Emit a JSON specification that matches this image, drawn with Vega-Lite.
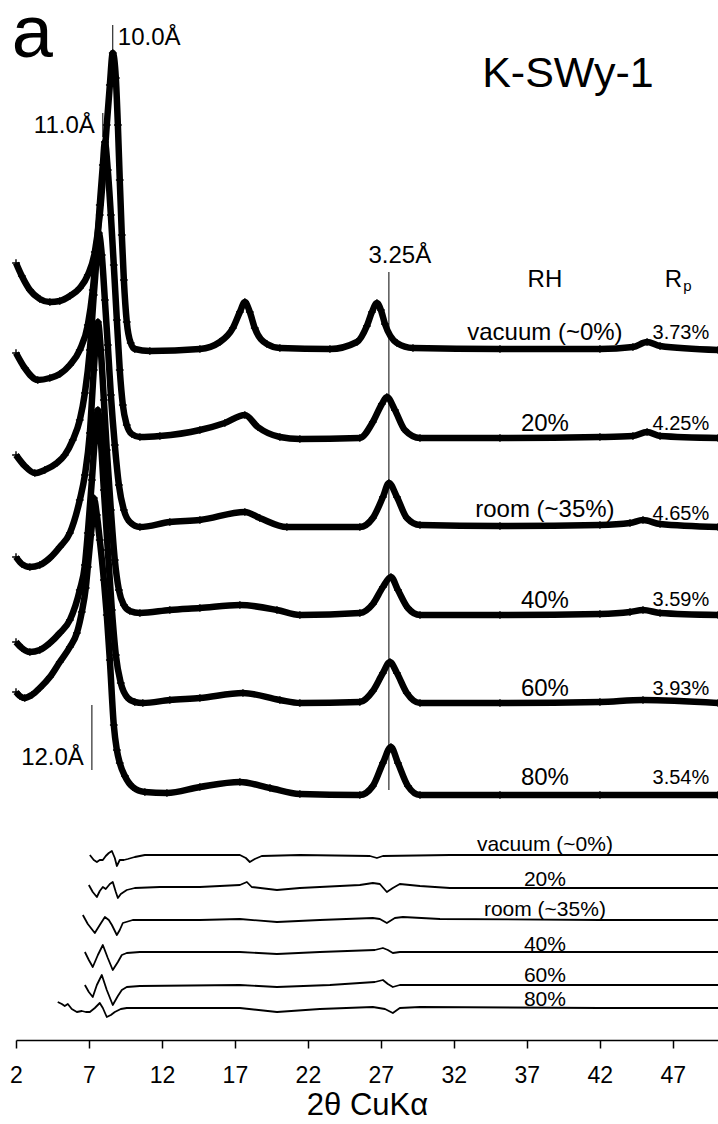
{
  "$schema": "https://vega.github.io/schema/vega-lite/v6.json",
  "width": 702,
  "height": 1040,
  "autosize": {"type": "none"},
  "padding": {"left": 16, "top": 0, "right": 0, "bottom": 84},
  "background": "white",
  "config": {"view": {"stroke": null}, "font": "Liberation Sans"},
  "datasets": {
    "obs": [
      {"rh":"vac","twotheta":2.0,"intensity":777},{"rh":"vac","twotheta":2.4,"intensity":764},{"rh":"vac","twotheta":2.95,"intensity":750},{"rh":"vac","twotheta":3.63,"intensity":741},{"rh":"vac","twotheta":4.32,"intensity":738},{"rh":"vac","twotheta":5.0,"intensity":739},{"rh":"vac","twotheta":5.69,"intensity":744},{"rh":"vac","twotheta":6.37,"intensity":752},{"rh":"vac","twotheta":6.92,"intensity":765},{"rh":"vac","twotheta":7.4,"intensity":788},{"rh":"vac","twotheta":7.74,"intensity":825},{"rh":"vac","twotheta":8.02,"intensity":875},{"rh":"vac","twotheta":8.22,"intensity":915},{"rh":"vac","twotheta":8.43,"intensity":955},{"rh":"vac","twotheta":8.63,"intensity":987},{"rh":"vac","twotheta":8.84,"intensity":962},{"rh":"vac","twotheta":8.98,"intensity":915},{"rh":"vac","twotheta":9.11,"intensity":860},{"rh":"vac","twotheta":9.25,"intensity":805},{"rh":"vac","twotheta":9.39,"intensity":760},{"rh":"vac","twotheta":9.59,"intensity":718},{"rh":"vac","twotheta":9.86,"intensity":697},{"rh":"vac","twotheta":10.14,"intensity":691},{"rh":"vac","twotheta":11.17,"intensity":689},{"rh":"vac","twotheta":14.6,"intensity":691},{"rh":"vac","twotheta":15.97,"intensity":698},{"rh":"vac","twotheta":16.86,"intensity":712},{"rh":"vac","twotheta":17.34,"intensity":728},{"rh":"vac","twotheta":17.68,"intensity":738},{"rh":"vac","twotheta":18.02,"intensity":728},{"rh":"vac","twotheta":18.36,"intensity":712},{"rh":"vac","twotheta":19.19,"intensity":696},{"rh":"vac","twotheta":20.08,"intensity":692},{"rh":"vac","twotheta":23.51,"intensity":691},{"rh":"vac","twotheta":25.36,"intensity":698},{"rh":"vac","twotheta":26.04,"intensity":714},{"rh":"vac","twotheta":26.39,"intensity":728},{"rh":"vac","twotheta":26.73,"intensity":737},{"rh":"vac","twotheta":27.0,"intensity":730},{"rh":"vac","twotheta":27.28,"intensity":716},{"rh":"vac","twotheta":28.1,"intensity":697},{"rh":"vac","twotheta":29.2,"intensity":692},{"rh":"vac","twotheta":35.16,"intensity":691},{"rh":"vac","twotheta":42.01,"intensity":691},{"rh":"vac","twotheta":44.27,"intensity":693},{"rh":"vac","twotheta":45.24,"intensity":698},{"rh":"vac","twotheta":46.13,"intensity":694},{"rh":"vac","twotheta":50.1,"intensity":690},

      {"rh":"20","twotheta":2.0,"intensity":687},{"rh":"20","twotheta":2.6,"intensity":672},{"rh":"20","twotheta":3.49,"intensity":660},{"rh":"20","twotheta":4.32,"intensity":662},{"rh":"20","twotheta":5.0,"intensity":666},{"rh":"20","twotheta":5.69,"intensity":675},{"rh":"20","twotheta":6.37,"intensity":690},{"rh":"20","twotheta":6.92,"intensity":715},{"rh":"20","twotheta":7.26,"intensity":750},{"rh":"20","twotheta":7.54,"intensity":795},{"rh":"20","twotheta":7.74,"intensity":835},{"rh":"20","twotheta":7.95,"intensity":875},{"rh":"20","twotheta":8.09,"intensity":898},{"rh":"20","twotheta":8.29,"intensity":870},{"rh":"20","twotheta":8.5,"intensity":825},{"rh":"20","twotheta":8.7,"intensity":775},{"rh":"20","twotheta":8.91,"intensity":720},{"rh":"20","twotheta":9.11,"intensity":670},{"rh":"20","twotheta":9.32,"intensity":635},{"rh":"20","twotheta":9.59,"intensity":615},{"rh":"20","twotheta":9.93,"intensity":606},{"rh":"20","twotheta":10.49,"intensity":603},{"rh":"20","twotheta":11.86,"intensity":604},{"rh":"20","twotheta":14.6,"intensity":610},{"rh":"20","twotheta":16.31,"intensity":617},{"rh":"20","twotheta":17.68,"intensity":625},{"rh":"20","twotheta":18.57,"intensity":613},{"rh":"20","twotheta":20.08,"intensity":603},{"rh":"20","twotheta":21.45,"intensity":601},{"rh":"20","twotheta":25.56,"intensity":602},{"rh":"20","twotheta":26.45,"intensity":618},{"rh":"20","twotheta":27.07,"intensity":636},{"rh":"20","twotheta":27.41,"intensity":643},{"rh":"20","twotheta":27.96,"intensity":630},{"rh":"20","twotheta":28.64,"intensity":610},{"rh":"20","twotheta":29.68,"intensity":602},{"rh":"20","twotheta":35.16,"intensity":602},{"rh":"20","twotheta":42.01,"intensity":603},{"rh":"20","twotheta":44.27,"intensity":604},{"rh":"20","twotheta":45.24,"intensity":608},{"rh":"20","twotheta":46.13,"intensity":604},{"rh":"20","twotheta":50.1,"intensity":602},

      {"rh":"room","twotheta":2.0,"intensity":585},{"rh":"room","twotheta":2.6,"intensity":574},{"rh":"room","twotheta":3.29,"intensity":567},{"rh":"room","twotheta":3.97,"intensity":570},{"rh":"room","twotheta":4.8,"intensity":577},{"rh":"room","twotheta":5.34,"intensity":585},{"rh":"room","twotheta":5.89,"intensity":600},{"rh":"room","twotheta":6.37,"intensity":620},{"rh":"room","twotheta":6.72,"intensity":647},{"rh":"room","twotheta":7.06,"intensity":690},{"rh":"room","twotheta":7.33,"intensity":745},{"rh":"room","twotheta":7.54,"intensity":785},{"rh":"room","twotheta":7.67,"intensity":807},{"rh":"room","twotheta":7.88,"intensity":785},{"rh":"room","twotheta":8.09,"intensity":740},{"rh":"room","twotheta":8.29,"intensity":695},{"rh":"room","twotheta":8.5,"intensity":645},{"rh":"room","twotheta":8.77,"intensity":595},{"rh":"room","twotheta":9.05,"intensity":555},{"rh":"room","twotheta":9.39,"intensity":530},{"rh":"room","twotheta":9.8,"intensity":518},{"rh":"room","twotheta":10.49,"intensity":513},{"rh":"room","twotheta":12.54,"intensity":518},{"rh":"room","twotheta":14.6,"intensity":520},{"rh":"room","twotheta":17.68,"intensity":528},{"rh":"room","twotheta":18.7,"intensity":522},{"rh":"room","twotheta":20.56,"intensity":513},{"rh":"room","twotheta":25.56,"intensity":513},{"rh":"room","twotheta":26.45,"intensity":522},{"rh":"room","twotheta":27.14,"intensity":543},{"rh":"room","twotheta":27.55,"intensity":557},{"rh":"room","twotheta":28.1,"intensity":543},{"rh":"room","twotheta":28.78,"intensity":522},{"rh":"room","twotheta":29.68,"intensity":515},{"rh":"room","twotheta":35.16,"intensity":514},{"rh":"room","twotheta":42.01,"intensity":515},{"rh":"room","twotheta":44.07,"intensity":517},{"rh":"room","twotheta":44.96,"intensity":520},{"rh":"room","twotheta":46.13,"intensity":516},{"rh":"room","twotheta":50.1,"intensity":513},

      {"rh":"40","twotheta":2.0,"intensity":483},{"rh":"40","twotheta":2.4,"intensity":476},{"rh":"40","twotheta":2.95,"intensity":473},{"rh":"40","twotheta":3.63,"intensity":475},{"rh":"40","twotheta":4.32,"intensity":482},{"rh":"40","twotheta":5.0,"intensity":493},{"rh":"40","twotheta":5.69,"intensity":507},{"rh":"40","twotheta":6.37,"intensity":540},{"rh":"40","twotheta":6.72,"intensity":565},{"rh":"40","twotheta":7.06,"intensity":607},{"rh":"40","twotheta":7.33,"intensity":670},{"rh":"40","twotheta":7.61,"intensity":718},{"rh":"40","twotheta":7.81,"intensity":690},{"rh":"40","twotheta":8.02,"intensity":640},{"rh":"40","twotheta":8.22,"intensity":590},{"rh":"40","twotheta":8.5,"intensity":530},{"rh":"40","twotheta":8.77,"intensity":480},{"rh":"40","twotheta":9.05,"intensity":450},{"rh":"40","twotheta":9.39,"intensity":435},{"rh":"40","twotheta":9.8,"intensity":429},{"rh":"40","twotheta":10.49,"intensity":427},{"rh":"40","twotheta":12.54,"intensity":430},{"rh":"40","twotheta":14.6,"intensity":432},{"rh":"40","twotheta":17.34,"intensity":435},{"rh":"40","twotheta":19.88,"intensity":430},{"rh":"40","twotheta":21.45,"intensity":425},{"rh":"40","twotheta":25.56,"intensity":427},{"rh":"40","twotheta":26.45,"intensity":436},{"rh":"40","twotheta":27.14,"intensity":453},{"rh":"40","twotheta":27.69,"intensity":463},{"rh":"40","twotheta":28.17,"intensity":450},{"rh":"40","twotheta":28.85,"intensity":432},{"rh":"40","twotheta":29.68,"intensity":425},{"rh":"40","twotheta":35.16,"intensity":425},{"rh":"40","twotheta":42.01,"intensity":426},{"rh":"40","twotheta":44.07,"intensity":428},{"rh":"40","twotheta":44.96,"intensity":430},{"rh":"40","twotheta":46.13,"intensity":427},{"rh":"40","twotheta":50.1,"intensity":425},

      {"rh":"60","twotheta":2.0,"intensity":398},{"rh":"60","twotheta":2.4,"intensity":392},{"rh":"60","twotheta":2.95,"intensity":388},{"rh":"60","twotheta":3.63,"intensity":390},{"rh":"60","twotheta":4.32,"intensity":397},{"rh":"60","twotheta":5.0,"intensity":407},{"rh":"60","twotheta":5.69,"intensity":420},{"rh":"60","twotheta":6.37,"intensity":450},{"rh":"60","twotheta":6.72,"intensity":475},{"rh":"60","twotheta":6.92,"intensity":507},{"rh":"60","twotheta":7.2,"intensity":560},{"rh":"60","twotheta":7.4,"intensity":600},{"rh":"60","twotheta":7.61,"intensity":630},{"rh":"60","twotheta":7.81,"intensity":600},{"rh":"60","twotheta":8.02,"intensity":550},{"rh":"60","twotheta":8.29,"intensity":490},{"rh":"60","twotheta":8.57,"intensity":430},{"rh":"60","twotheta":8.84,"intensity":385},{"rh":"60","twotheta":9.18,"intensity":357},{"rh":"60","twotheta":9.66,"intensity":342},{"rh":"60","twotheta":10.14,"intensity":338},{"rh":"60","twotheta":10.69,"intensity":337},{"rh":"60","twotheta":12.54,"intensity":340},{"rh":"60","twotheta":14.6,"intensity":342},{"rh":"60","twotheta":17.55,"intensity":347},{"rh":"60","twotheta":20.08,"intensity":340},{"rh":"60","twotheta":21.45,"intensity":337},{"rh":"60","twotheta":25.56,"intensity":338},{"rh":"60","twotheta":26.45,"intensity":349},{"rh":"60","twotheta":27.14,"intensity":367},{"rh":"60","twotheta":27.62,"intensity":378},{"rh":"60","twotheta":28.1,"intensity":367},{"rh":"60","twotheta":28.78,"intensity":347},{"rh":"60","twotheta":29.68,"intensity":337},{"rh":"60","twotheta":35.16,"intensity":337},{"rh":"60","twotheta":42.01,"intensity":338},{"rh":"60","twotheta":44.96,"intensity":340},{"rh":"60","twotheta":50.1,"intensity":337},

      {"rh":"80","twotheta":2.0,"intensity":348},{"rh":"80","twotheta":2.26,"intensity":344},{"rh":"80","twotheta":2.6,"intensity":342},{"rh":"80","twotheta":3.08,"intensity":345},{"rh":"80","twotheta":3.63,"intensity":352},{"rh":"80","twotheta":4.32,"intensity":363},{"rh":"80","twotheta":5.0,"intensity":378},{"rh":"80","twotheta":5.69,"intensity":393},{"rh":"80","twotheta":6.17,"intensity":407},{"rh":"80","twotheta":6.51,"intensity":428},{"rh":"80","twotheta":6.78,"intensity":452},{"rh":"80","twotheta":6.92,"intensity":473},{"rh":"80","twotheta":7.13,"intensity":505},{"rh":"80","twotheta":7.26,"intensity":525},{"rh":"80","twotheta":7.33,"intensity":542},{"rh":"80","twotheta":7.54,"intensity":525},{"rh":"80","twotheta":7.74,"intensity":500},{"rh":"80","twotheta":8.02,"intensity":460},{"rh":"80","twotheta":8.22,"intensity":425},{"rh":"80","twotheta":8.43,"intensity":380},{"rh":"80","twotheta":8.7,"intensity":315},{"rh":"80","twotheta":8.91,"intensity":290},{"rh":"80","twotheta":9.11,"intensity":277},{"rh":"80","twotheta":9.46,"intensity":264},{"rh":"80","twotheta":10.0,"intensity":253},{"rh":"80","twotheta":10.83,"intensity":248},{"rh":"80","twotheta":12.34,"intensity":247},{"rh":"80","twotheta":14.6,"intensity":253},{"rh":"80","twotheta":17.34,"intensity":258},{"rh":"80","twotheta":19.4,"intensity":252},{"rh":"80","twotheta":21.45,"intensity":246},{"rh":"80","twotheta":25.56,"intensity":245},{"rh":"80","twotheta":26.45,"intensity":254},{"rh":"80","twotheta":27.14,"intensity":277},{"rh":"80","twotheta":27.69,"intensity":293},{"rh":"80","twotheta":28.17,"intensity":277},{"rh":"80","twotheta":28.85,"intensity":254},{"rh":"80","twotheta":29.68,"intensity":245},{"rh":"80","twotheta":35.16,"intensity":245},{"rh":"80","twotheta":42.01,"intensity":245},{"rh":"80","twotheta":50.1,"intensity":245}
    ],
    "diff": [
      {"rh":"vac","twotheta":7.06,"intensity":185},{"rh":"vac","twotheta":7.33,"intensity":180},{"rh":"vac","twotheta":7.54,"intensity":178},{"rh":"vac","twotheta":7.74,"intensity":180},{"rh":"vac","twotheta":7.95,"intensity":180},{"rh":"vac","twotheta":8.15,"intensity":184},{"rh":"vac","twotheta":8.36,"intensity":187},{"rh":"vac","twotheta":8.57,"intensity":189},{"rh":"vac","twotheta":8.77,"intensity":182},{"rh":"vac","twotheta":8.91,"intensity":174},{"rh":"vac","twotheta":9.11,"intensity":180},{"rh":"vac","twotheta":9.39,"intensity":180},{"rh":"vac","twotheta":9.66,"intensity":181},{"rh":"vac","twotheta":10.14,"intensity":183},{"rh":"vac","twotheta":10.83,"intensity":185},{"rh":"vac","twotheta":14.6,"intensity":185},{"rh":"vac","twotheta":17.34,"intensity":185},{"rh":"vac","twotheta":17.75,"intensity":182},{"rh":"vac","twotheta":18.02,"intensity":178},{"rh":"vac","twotheta":18.36,"intensity":181},{"rh":"vac","twotheta":18.84,"intensity":184},{"rh":"vac","twotheta":21.45,"intensity":185},{"rh":"vac","twotheta":26.25,"intensity":184},{"rh":"vac","twotheta":26.73,"intensity":182},{"rh":"vac","twotheta":27.14,"intensity":184},{"rh":"vac","twotheta":31.73,"intensity":185},{"rh":"vac","twotheta":42.01,"intensity":185},{"rh":"vac","twotheta":50.1,"intensity":185},

      {"rh":"20","twotheta":6.99,"intensity":155},{"rh":"20","twotheta":7.26,"intensity":148},{"rh":"20","twotheta":7.54,"intensity":143},{"rh":"20","twotheta":7.74,"intensity":149},{"rh":"20","twotheta":7.95,"intensity":153},{"rh":"20","twotheta":8.15,"intensity":151},{"rh":"20","twotheta":8.43,"intensity":156},{"rh":"20","twotheta":8.63,"intensity":158},{"rh":"20","twotheta":8.84,"intensity":148},{"rh":"20","twotheta":8.98,"intensity":142},{"rh":"20","twotheta":9.18,"intensity":146},{"rh":"20","twotheta":9.59,"intensity":150},{"rh":"20","twotheta":10.14,"intensity":152},{"rh":"20","twotheta":11.86,"intensity":153},{"rh":"20","twotheta":14.6,"intensity":153},{"rh":"20","twotheta":17.34,"intensity":155},{"rh":"20","twotheta":17.82,"intensity":158},{"rh":"20","twotheta":18.15,"intensity":153},{"rh":"20","twotheta":19.88,"intensity":150},{"rh":"20","twotheta":21.45,"intensity":152},{"rh":"20","twotheta":25.56,"intensity":155},{"rh":"20","twotheta":26.45,"intensity":157},{"rh":"20","twotheta":26.93,"intensity":156},{"rh":"20","twotheta":27.41,"intensity":148},{"rh":"20","twotheta":27.82,"intensity":152},{"rh":"20","twotheta":28.3,"intensity":156},{"rh":"20","twotheta":29.68,"intensity":154},{"rh":"20","twotheta":31.73,"intensity":152},{"rh":"20","twotheta":42.01,"intensity":152},{"rh":"20","twotheta":50.1,"intensity":152},

      {"rh":"room","twotheta":6.58,"intensity":125},{"rh":"room","twotheta":6.92,"intensity":116},{"rh":"room","twotheta":7.4,"intensity":107},{"rh":"room","twotheta":7.74,"intensity":115},{"rh":"room","twotheta":8.09,"intensity":123},{"rh":"room","twotheta":8.36,"intensity":120},{"rh":"room","twotheta":8.57,"intensity":115},{"rh":"room","twotheta":8.91,"intensity":105},{"rh":"room","twotheta":9.11,"intensity":110},{"rh":"room","twotheta":9.32,"intensity":117},{"rh":"room","twotheta":10.0,"intensity":120},{"rh":"room","twotheta":14.6,"intensity":120},{"rh":"room","twotheta":17.34,"intensity":121},{"rh":"room","twotheta":19.88,"intensity":118},{"rh":"room","twotheta":22.82,"intensity":120},{"rh":"room","twotheta":26.45,"intensity":122},{"rh":"room","twotheta":26.93,"intensity":121},{"rh":"room","twotheta":27.41,"intensity":117},{"rh":"room","twotheta":27.96,"intensity":122},{"rh":"room","twotheta":28.51,"intensity":123},{"rh":"room","twotheta":31.05,"intensity":121},{"rh":"room","twotheta":42.01,"intensity":120},{"rh":"room","twotheta":50.1,"intensity":120},

      {"rh":"40","twotheta":6.72,"intensity":88},{"rh":"40","twotheta":6.99,"intensity":80},{"rh":"40","twotheta":7.26,"intensity":73},{"rh":"40","twotheta":7.61,"intensity":85},{"rh":"40","twotheta":7.95,"intensity":95},{"rh":"40","twotheta":8.29,"intensity":82},{"rh":"40","twotheta":8.63,"intensity":70},{"rh":"40","twotheta":8.98,"intensity":78},{"rh":"40","twotheta":9.25,"intensity":85},{"rh":"40","twotheta":9.59,"intensity":87},{"rh":"40","twotheta":10.49,"intensity":88},{"rh":"40","twotheta":17.34,"intensity":88},{"rh":"40","twotheta":19.88,"intensity":86},{"rh":"40","twotheta":22.82,"intensity":88},{"rh":"40","twotheta":26.59,"intensity":90},{"rh":"40","twotheta":27.14,"intensity":92},{"rh":"40","twotheta":27.48,"intensity":90},{"rh":"40","twotheta":27.82,"intensity":87},{"rh":"40","twotheta":28.3,"intensity":88},{"rh":"40","twotheta":42.01,"intensity":88},{"rh":"40","twotheta":50.1,"intensity":88},

      {"rh":"60","twotheta":6.72,"intensity":55},{"rh":"60","twotheta":6.99,"intensity":48},{"rh":"60","twotheta":7.26,"intensity":43},{"rh":"60","twotheta":7.54,"intensity":55},{"rh":"60","twotheta":7.88,"intensity":65},{"rh":"60","twotheta":8.22,"intensity":50},{"rh":"60","twotheta":8.63,"intensity":35},{"rh":"60","twotheta":8.98,"intensity":44},{"rh":"60","twotheta":9.25,"intensity":50},{"rh":"60","twotheta":9.59,"intensity":53},{"rh":"60","twotheta":10.49,"intensity":54},{"rh":"60","twotheta":17.34,"intensity":55},{"rh":"60","twotheta":19.88,"intensity":53},{"rh":"60","twotheta":23.51,"intensity":55},{"rh":"60","twotheta":26.59,"intensity":58},{"rh":"60","twotheta":27.14,"intensity":60},{"rh":"60","twotheta":27.48,"intensity":56},{"rh":"60","twotheta":27.82,"intensity":53},{"rh":"60","twotheta":28.3,"intensity":55},{"rh":"60","twotheta":42.01,"intensity":55},{"rh":"60","twotheta":50.1,"intensity":55},

      {"rh":"80","twotheta":4.86,"intensity":38},{"rh":"80","twotheta":5.14,"intensity":36},{"rh":"80","twotheta":5.34,"intensity":34},{"rh":"80","twotheta":5.55,"intensity":36},{"rh":"80","twotheta":5.82,"intensity":31},{"rh":"80","twotheta":6.17,"intensity":28},{"rh":"80","twotheta":6.51,"intensity":29},{"rh":"80","twotheta":6.78,"intensity":28},{"rh":"80","twotheta":7.06,"intensity":28},{"rh":"80","twotheta":7.4,"intensity":32},{"rh":"80","twotheta":7.74,"intensity":37},{"rh":"80","twotheta":7.95,"intensity":32},{"rh":"80","twotheta":8.22,"intensity":23},{"rh":"80","twotheta":8.5,"intensity":25},{"rh":"80","twotheta":8.77,"intensity":28},{"rh":"80","twotheta":9.18,"intensity":31},{"rh":"80","twotheta":9.59,"intensity":32},{"rh":"80","twotheta":14.6,"intensity":32},{"rh":"80","twotheta":17.34,"intensity":32},{"rh":"80","twotheta":19.88,"intensity":28},{"rh":"80","twotheta":22.82,"intensity":31},{"rh":"80","twotheta":26.45,"intensity":33},{"rh":"80","twotheta":27.28,"intensity":31},{"rh":"80","twotheta":27.82,"intensity":27},{"rh":"80","twotheta":28.3,"intensity":32},{"rh":"80","twotheta":29.68,"intensity":33},{"rh":"80","twotheta":42.01,"intensity":32},{"rh":"80","twotheta":50.1,"intensity":32}
    ],
    "marks": [
      {"name":"10.0Å","twotheta":8.63,"lo":987,"hi":1015},
      {"name":"11.0Å","twotheta":7.95,"lo":903,"hi":927},
      {"name":"12.0Å","twotheta":7.2,"lo":270,"hi":335},
      {"name":"3.25Å","twotheta":27.55,"lo":250,"hi":768}
    ],
    "labels": [
      {"text":"vacuum (~0%)","twotheta":38.24,"intensity":707},
      {"text":"20%","twotheta":38.24,"intensity":616},
      {"text":"room (~35%)","twotheta":38.24,"intensity":530},
      {"text":"40%","twotheta":38.24,"intensity":439},
      {"text":"60%","twotheta":38.24,"intensity":351},
      {"text":"80%","twotheta":38.24,"intensity":262},
      {"text":"RH","twotheta":38.24,"intensity":760},
      {"text":"R","twotheta":47.05,"intensity":760},
      {"text":"3.25Å","twotheta":28.3,"intensity":784}
    ],
    "rp": [
      {"text":"3.73%","twotheta":47.56,"intensity":707},
      {"text":"4.25%","twotheta":47.56,"intensity":616},
      {"text":"4.65%","twotheta":47.56,"intensity":526},
      {"text":"3.59%","twotheta":47.56,"intensity":440},
      {"text":"3.93%","twotheta":47.56,"intensity":351},
      {"text":"3.54%","twotheta":47.56,"intensity":262}
    ],
    "difflabels": [
      {"text":"vacuum (~0%)","twotheta":38.24,"intensity":195},
      {"text":"20%","twotheta":38.24,"intensity":160},
      {"text":"room (~35%)","twotheta":38.24,"intensity":130},
      {"text":"40%","twotheta":38.24,"intensity":95},
      {"text":"60%","twotheta":38.24,"intensity":64},
      {"text":"80%","twotheta":38.24,"intensity":40}
    ]
  },
  "encoding": {
    "x": {"field":"twotheta","type":"quantitative","scale":{"domain":[2,50.1],"nice":false,"zero":false},
      "axis":{"values":[2,7,12,17,22,27,32,37,42,47],"title":"2θ CuKα","grid":false,"domainColor":"black","domainWidth":1.5,"tickColor":"black","tickWidth":1.5,"tickSize":8,"labelFontSize":23,"labelColor":"black","labelPadding":16,"labelFont":"Liberation Sans","titleFont":"Liberation Sans","titleFontSize":31,"titleFontWeight":"normal","titleColor":"black","titlePadding":3,"labelFlush":false}},
    "y": {"field":"intensity","type":"quantitative","scale":{"domain":[0,1040],"nice":false,"zero":false},"axis":null}
  },
  "layer": [
    {"data":{"name":"obs"},"mark":{"type":"line","color":"black","strokeWidth":6.5,"strokeJoin":"round","interpolate":"monotone"},"encoding":{"detail":{"field":"rh"}}},
    {"data":{"name":"obs"},"mark":{"type":"point","shape":"M-1,0L1,0M0,-1L0,1","size":60,"filled":false,"color":"black","strokeWidth":1.4,"opacity":1}},
    {"data":{"name":"diff"},"mark":{"type":"line","color":"black","strokeWidth":1.8,"strokeJoin":"round"},"encoding":{"detail":{"field":"rh"}}},
    {"data":{"name":"marks"},"mark":{"type":"rule","color":"black","strokeWidth":1},"encoding":{"y":{"field":"lo","type":"quantitative"},"y2":{"field":"hi"}}},
    {"data":{"name":"labels"},"mark":{"type":"text","fontSize":24,"align":"center","baseline":"middle","color":"black"},"encoding":{"text":{"field":"text"}}},
    {"data":{"name":"rp"},"mark":{"type":"text","fontSize":20,"align":"center","baseline":"middle","color":"black"},"encoding":{"text":{"field":"text"}}},
    {"data":{"name":"difflabels"},"mark":{"type":"text","fontSize":21,"align":"center","baseline":"middle","color":"black"},"encoding":{"text":{"field":"text"}}},
    {"data":{"values":[{"text":"p","twotheta":48.0,"intensity":754}]},"mark":{"type":"text","fontSize":15,"align":"center","baseline":"middle","color":"black"},"encoding":{"text":{"field":"text"}}},
    {"data":{"values":[{"text":"10.0Å","twotheta":8.98,"intensity":1002}]},"mark":{"type":"text","fontSize":24,"align":"left","baseline":"middle","color":"black"},"encoding":{"text":{"field":"text"}}},
    {"data":{"values":[{"text":"11.0Å","twotheta":7.4,"intensity":914},{"text":"12.0Å","twotheta":6.65,"intensity":282}]},"mark":{"type":"text","fontSize":24,"align":"right","baseline":"middle","color":"black"},"encoding":{"text":{"field":"text"}}},
    {"data":{"values":[{"text":"K-SWy-1","twotheta":39.82,"intensity":966}]},"mark":{"type":"text","fontSize":43,"align":"center","baseline":"middle","color":"black"},"encoding":{"text":{"field":"text"}}},
    {"data":{"values":[{"text":"a","twotheta":1.71,"intensity":983}]},"mark":{"type":"text","fontSize":74,"align":"left","baseline":"alphabetic","color":"black"},"encoding":{"text":{"field":"text"}}}
  ]
}
